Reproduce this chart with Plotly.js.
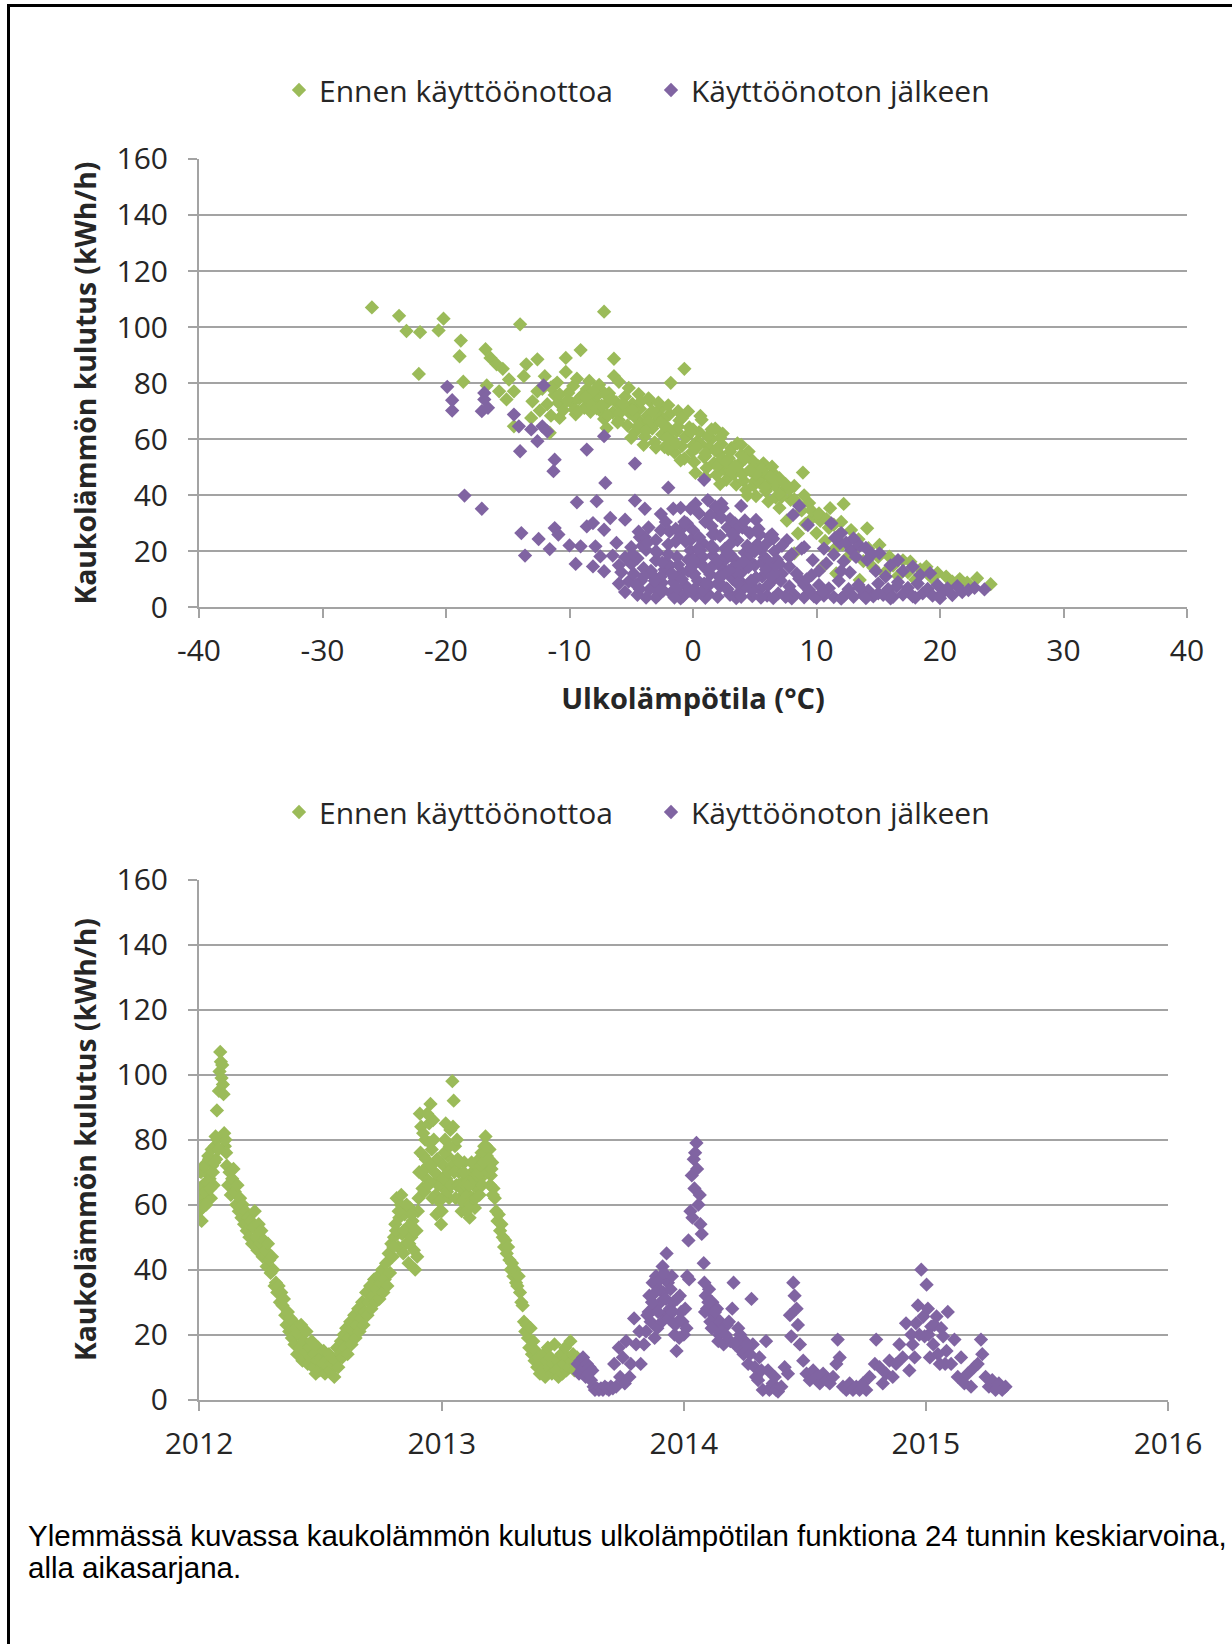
<!DOCTYPE html>
<html>
<head>
<meta charset="utf-8">
<script src="https://cdn.plot.ly/plotly-3.0.1.min.js"></script>
<style>
html,body{margin:0;padding:0;background:#fff;}
#chart{width:1232px;height:1644px;}
</style>
</head>
<body>
<div id="chart"></div>
<script>
// ---------- labels ----------
const seriesNames = ['Ennen käyttöönottoa', 'Käyttöönoton jälkeen'];
const yTitle = 'Kaukolämmön kulutus (kWh/h)';
const xTitleTop = 'Ulkolämpötila (°C)';
const captionLines = [
  'Ylemmässä kuvassa kaukolämmön kulutus ulkolämpötilan funktiona 24 tunnin keskiarvoina,',
  'alla aikasarjana.'
];
const tempTickVals = [-40, -30, -20, -10, 0, 10, 20, 30, 40];
const tempTickText = ['-40', '-30', '-20', '-10', '0', '10', '20', '30', '40'];
const yearTickVals = ['2012-01-01', '2013-01-01', '2014-01-01', '2015-01-01', '2016-01-01'];
const yearTickText = ['2012', '2013', '2014', '2015', '2016'];
const kwhTickVals = [0, 20, 40, 60, 80, 100, 120, 140, 160];

// ---------- top chart: consumption vs outdoor temperature ----------
const tempBefore = [
 -26.0,-23.8,-23.2,-22.1,-22.2,-20.6,-20.2,-18.8,-18.9,-18.6,
 -16.8,-16.4,-15.9,-15.4,-14.9,-16.7,-15.7,-15.1,-14.5,-14.0,
 -13.7,-13.5,-12.6,-12.6,-13.1,-11.6,-14.5,-12.0,-11.3,-10.3,
 -10.3,-9.1,-10.8,-9.7,-7.2,-6.4,-0.7,-1.8,-6.4,-11.8,
 -11.2,-10.9,-10.5,-10.1,-9.8,-9.5,-9.2,-8.8,-8.6,-8.3,
 -8.0,-7.7,-7.5,-7.2,-7.0,-6.8,-6.5,-6.2,-6.0,-5.8,
 -5.5,-5.3,-5.1,-4.9,-4.7,-4.5,-4.3,-4.1,-3.9,-3.7,
 -3.5,-3.3,-3.1,-2.9,-2.7,-2.5,-2.3,-2.1,-1.9,-1.7,
 -1.5,-1.3,-1.1,-0.9,-0.7,-0.5,-0.3,-0.1,0.1,0.3,
 0.5,0.7,0.9,1.1,1.3,1.5,1.7,1.9,2.1,2.3,
 2.5,2.7,2.9,3.1,3.3,3.5,3.7,3.9,4.1,4.3,
 4.5,4.7,4.9,5.1,5.3,5.5,5.7,5.9,6.1,6.3,
 6.5,6.7,7.0,7.0,7.3,7.6,7.9,8.2,8.5,8.2,
 8.9,8.8,9.1,9.4,9.7,10.0,10.3,10.5,10.7,11.1,
 11.0,11.4,11.6,11.8,12.2,12.1,12.5,12.8,13.1,13.5,
 13.4,13.8,14.1,14.2,14.6,15.1,15.0,15.5,15.9,16.2,
 16.6,17.0,17.6,17.4,18.0,18.4,18.9,19.3,19.8,20.5,
 21.0,21.6,22.2,23.0,24.1,-6.0,-5.2,-4.4,-3.6,-2.8,
 -2.0,-1.2,-0.4,0.6,-8.4,-7.6,-9.4,-11.0,-12.2,-13.0,
 -12.4,-11.5,0.0,1.0,2.0,3.0,4.0,5.0,6.0,2.4,
 3.6,4.8,5.6,6.4,1.8,
 -11.5,-10.8,-10.2,-9.6,-9.0,-8.4,-7.8,-7.2,-6.6,-6.0,
 -5.4,-4.8,-4.2,-3.6,-3.0,-2.4,-1.8,-1.2,-0.6,0.0,
 0.6,1.2,1.8,2.4,3.0,3.6,4.2,4.8,5.4,6.0,
 6.6,7.2,7.8,8.4,9.0,9.6,10.2,10.8,11.4,12.0,
 -4.0,-2.0,0.2,2.2,4.4,-7.0,-5.0,-3.0,-1.0,1.0,
 -9.3,-8.1,-6.9,-5.7,-4.5,-3.3,-2.1,-0.9,0.3,1.5,
 2.7,3.9,5.1,6.3,7.5,-8.7,-7.4,-6.1,-4.9,-3.8,
 -2.6,-1.4,-0.2,1.0,2.2,3.4,4.6,5.8,7.0,8.2
];
const kwhBefore = [
 107,104,98.6,98.2,83.3,98.8,103,95.2,89.6,80.5,
 92.1,89.0,86.7,85.1,81.3,79.2,77.1,74.2,77.1,101,
 82.5,86.7,88.5,77.1,67.6,62.3,64.6,82.5,79.0,89.0,
 84.0,91.8,67.6,79.0,105.5,88.7,85.1,80.1,82.5,72.5,
 75.8,73.0,70.4,76.5,72.8,68.9,74.6,71.2,77.9,69.8,
 73.5,75.9,70.1,67.2,72.8,76.4,69.5,73.1,66.8,71.4,
 75.2,64.9,69.2,72.6,62.5,67.0,70.9,65.3,61.0,68.4,
 73.7,63.8,58.9,66.5,70.5,61.7,57.2,64.4,68.9,59.6,
 55.3,62.8,66.7,57.5,53.1,60.9,64.2,55.4,51.8,59.0,
 62.5,66.9,53.6,49.7,57.2,60.1,51.5,47.3,55.0,58.3,
 49.4,45.5,53.2,56.8,47.6,43.8,51.0,54.4,45.2,41.9,
 55.6,48.7,43.5,39.7,50.3,46.2,51.4,41.5,37.8,44.0,
 47.9,39.2,46.1,35.5,41.7,31.0,38.4,43.3,26.4,19.3,
 48.1,34.6,29.8,37.2,32.1,26.5,30.9,14.5,23.7,35.4,
 28.4,20.6,12.1,25.9,36.9,22.5,17.8,27.6,20.4,9.8,
 24.3,16.5,28.2,21.1,14.2,22.3,18.0,12.3,18.1,14.9,
 11.2,16.8,16.3,12.5,9.9,13.6,14.5,10.7,12.3,11.0,
 9.2,10.1,8.8,10.4,8.3,80.5,78.3,76.1,74.6,73.0,
 72.1,70.0,69.9,68.3,80.8,79.4,81.6,80.2,78.0,73.5,
 70.2,68.4,57.8,54.0,50.5,49.0,47.5,45.0,43.0,62.0,
 58.5,52.4,49.5,50.2,63.8,
 78.5,76.0,73.8,70.5,75.5,73.0,71.0,76.5,74.5,69.0,
 71.5,68.5,73.5,66.5,69.0,67.0,62.5,64.5,61.0,63.5,
 58.5,61.0,56.0,53.0,55.5,50.5,53.0,48.5,44.5,47.0,
 43.5,39.5,42.0,37.5,40.0,34.5,33.5,31.5,29.5,30.5,
 58.0,56.5,48.0,44.0,40.0,64.0,60.5,57.0,52.5,46.5,
 70.0,77.0,68.5,72.5,64.5,70.0,60.5,67.5,57.0,63.5,
 52.0,58.0,47.5,46.5,44.0,75.0,72.0,66.0,70.5,63.0,
 66.0,58.5,62.5,55.0,60.5,50.5,49.0,43.0,40.5,38.5
];
const tempAfter = [
 -19.9,-19.5,-19.5,-16.9,-16.9,-17.1,-16.6,-18.5,-17.1,-14.5,
 -14.1,-14.0,-13.1,-12.6,-12.2,-12.1,-11.8,-11.2,-11.3,-7.2,
 -8.6,-4.7,-7.1,-13.9,-13.6,-12.5,-11.6,-11.2,-10.9,-10.0,
 -9.5,-9.4,-9.1,-8.6,-7.9,-7.8,-8.1,-7.2,-7.5,-8.1,
 -7.2,-6.2,-6.7,-5.5,-4.7,-3.9,-2.6,-2.0,-1.6,-0.2,
 -5.2,0.9,1.2,2.3,2.4,3.9,5.1,8.1,8.6,9.3,
 11.2,11.9,12.8,14.1,15.1,16.6,17.8,6.2,7.6,7.8,
 9.7,10.8,23.6,11.5,12.0,12.4,13.0,13.5,14.0,14.5,
 13.2,12.2,11.4,10.6,12.7,14.8,15.6,16.0,17.0,18.4,
 19.2,-5.0,-4.8,-4.5,-4.2,-4.0,-3.8,-3.5,-3.3,-3.0,
 -2.8,-2.5,-2.3,-2.0,-1.8,-1.5,-1.3,-1.0,-0.8,-0.6,
 -0.4,-0.2,0.0,0.2,0.4,0.6,0.8,1.0,1.2,1.4,
 1.6,1.8,2.0,2.2,2.4,2.6,2.8,3.0,3.2,3.4,
 3.6,3.8,4.0,4.2,4.4,4.6,4.8,5.0,5.2,5.4,
 5.6,5.8,6.0,6.3,6.6,6.9,7.2,7.5,7.8,8.2,
 8.6,9.0,9.4,9.8,10.2,10.6,11.0,11.4,11.8,12.2,
 12.6,13.0,13.4,13.8,14.2,14.6,15.0,15.4,15.8,16.2,
 16.6,17.0,17.4,17.8,18.2,18.6,19.0,19.4,19.8,20.2,
 20.6,21.0,21.4,21.8,22.3,22.8,-3.0,-1.0,1.0,3.5,
 5.5,6.5,8.0,10.0,12.0,14.0,16.0,18.0,20.0,-0.5,
 0.5,1.5,2.0,3.0,0.2,1.8,-1.0,4.0,-6.0,-5.8,
 -5.5,-5.0,-4.3,-3.6,-3.0,-6.5,-6.0,-5.5,-4.5,-3.8,
 -2.2,-1.6,-0.9,-0.3,0.3,0.9,1.5,2.1,2.7,3.3,
 3.9,4.5,5.1,-2.6,-1.2,0.1,1.3,2.5,3.7,4.9,
 5.5,6.0,6.8,7.2,8.0,8.4,9.0,9.6,10.2,6.4,
 -4.6,-4.1,-3.4,-2.9,-2.4,-1.9,-1.4,-0.9,-0.4,0.1,
 0.6,1.1,1.6,2.1,2.6,3.1,3.6,4.1,4.6,5.1,
 5.6,6.1,6.6,7.1,-3.9,-3.2,-2.6,-1.7,-0.7,0.4,
 1.4,2.4,3.4,4.4,5.4,6.4,-1.2,0.8,2.8,4.8,
 -2.2,-0.2,1.9,3.9,5.9,-4.4,-3.0,-1.5,0.0,1.5,
 3.0,4.5,6.0,7.5,9.0,10.5,12.0,13.5,15.0,16.5,
 -4.9,-4.3,-3.7,-3.1,-2.5,-1.9,-1.3,-0.7,-0.1,0.5,
 1.1,1.7,2.3,2.9,3.5,4.1,4.7,5.3,5.9,6.5,
 -3.4,-2.0,-0.6,0.8,2.2,3.6,5.0,6.4,7.8,9.2,
 -1.4,0.0,1.4,2.8,4.2,-4.0,-2.6,3.2,7.0,8.8
];
const kwhAfter = [
 78.7,73.9,70.2,76.5,74.2,70.0,71.2,39.9,35.2,68.8,
 64.6,55.7,63.5,59.3,64.6,79.2,62.8,52.7,48.6,61.1,
 56.3,51.3,44.4,26.5,18.5,24.4,20.8,28.3,26.0,22.1,
 15.5,37.5,21.8,28.9,21.8,37.9,14.6,12.9,18.2,30.1,
 27.7,23.0,31.9,31.3,38.1,35.2,33.3,42.7,35.2,35.2,
 9.3,45.5,38.3,37.1,35.4,36.2,31.2,33.0,36.2,29.4,
 30.0,22.9,20.5,16.9,19.3,16.9,14.5,25.2,24.0,14.5,
 16.9,15.7,6.4,24.8,26.5,23.1,24.6,22.0,21.2,19.0,
 18.0,16.4,18.8,21.0,12.5,13.0,11.0,15.0,13.0,11.6,
 12.2,15.5,12.0,17.5,9.5,14.0,20.5,6.5,11.5,16.8,
 4.5,8.8,13.5,22.5,5.2,10.5,18.0,25.5,4.0,7.8,
 13.0,20.3,27.5,4.2,9.5,15.8,23.0,30.5,5.0,11.8,
 18.5,26.2,3.8,7.5,14.0,21.0,28.5,4.5,10.2,17.0,
 24.0,5.5,12.8,19.5,8.0,26.5,4.0,15.0,22.5,6.5,
 11.0,17.8,4.2,9.0,20.0,5.0,12.0,3.8,7.5,4.5,
 10.2,3.6,6.2,3.9,8.0,4.2,6.8,3.7,9.5,4.0,
 6.5,3.8,8.0,4.4,6.0,3.9,8.5,4.5,6.5,3.8,
 9.0,4.6,7.0,3.9,8.5,5.0,6.6,4.2,8.0,5.2,
 6.8,4.4,7.6,5.5,6.2,7.0,3.5,3.2,3.4,3.3,
 3.5,3.3,3.2,3.4,3.1,3.3,3.2,3.5,3.3,30.0,
 33.5,29.0,33.0,31.5,37.0,36.0,35.5,28.5,15.0,12.5,
 17.8,21.5,25.0,28.5,24.0,18.5,8.5,5.5,4.5,3.5,
 16.0,9.0,12.5,6.0,17.5,8.5,21.5,11.0,6.8,14.5,
 9.0,17.0,10.5,11.0,15.2,12.0,8.0,17.8,15.0,7.0,
 20.5,14.5,17.0,22.0,19.0,12.0,21.5,11.5,13.0,26.0,
 8.0,22.0,13.0,19.5,6.0,15.0,23.5,10.0,17.0,6.5,
 20.5,13.5,26.0,9.0,17.0,23.0,12.0,7.0,19.0,10.5,
 16.0,8.0,12.5,9.5,25.0,7.5,27.5,12.0,29.0,21.0,
 33.0,11.5,30.0,22.0,26.0,14.0,5.5,6.0,6.5,6.0,
 30.5,24.0,16.0,3.8,22.5,27.0,20.0,3.5,12.0,22.0,
 19.0,14.5,17.0,4.0,8.0,5.5,13.0,7.0,5.0,7.5,
 19.0,6.5,23.0,9.5,16.0,27.0,7.0,30.5,14.5,25.0,
 8.5,21.0,32.0,13.0,27.5,16.5,9.5,28.0,13.5,24.5,
 12.0,19.0,23.5,18.0,25.5,8.5,20.0,11.0,18.0,10.0,
 28.0,17.0,14.0,19.5,31.0,11.0,6.0,26.0,15.5,21.0
];

// ---------- bottom chart: time series ----------
const datesBefore = [
 '2012-01-01','2012-01-03','2012-01-05','2012-01-07','2012-01-09','2012-01-11','2012-01-13','2012-01-15','2012-01-17','2012-01-19',
 '2012-01-21','2012-01-23','2012-01-25','2012-01-27','2012-01-28','2012-01-29','2012-01-31','2012-02-01','2012-02-02','2012-02-03',
 '2012-02-04','2012-02-05','2012-02-06','2012-02-07','2012-02-08','2012-02-09','2012-02-10','2012-02-11','2012-02-12','2012-02-14',
 '2012-02-16','2012-02-18','2012-02-20','2012-02-22','2012-02-24','2012-02-26','2012-02-28','2012-03-01','2012-03-03','2012-03-05',
 '2012-03-07','2012-03-09','2012-03-11','2012-03-13','2012-03-15','2012-03-17','2012-03-19','2012-03-21','2012-03-23','2012-03-25',
 '2012-03-27','2012-03-29','2012-03-31','2012-04-02','2012-04-04','2012-04-06','2012-04-08','2012-04-10','2012-04-12','2012-04-14',
 '2012-04-16','2012-04-18','2012-04-20','2012-04-22','2012-04-24','2012-04-26','2012-04-28','2012-04-30','2012-05-02','2012-05-04',
 '2012-05-06','2012-05-08','2012-05-10','2012-05-12','2012-05-14','2012-05-16','2012-05-18','2012-05-20','2012-05-22','2012-05-24',
 '2012-05-26','2012-05-28','2012-05-30','2012-06-01','2012-06-03','2012-06-05','2012-06-07','2012-06-09','2012-06-11','2012-06-13',
 '2012-06-15','2012-06-17','2012-06-19','2012-06-21','2012-06-23','2012-06-25','2012-06-27','2012-06-29','2012-07-01','2012-07-03',
 '2012-07-05','2012-07-07','2012-07-09','2012-07-11','2012-07-13','2012-07-15','2012-07-17','2012-07-19','2012-07-21','2012-07-23',
 '2012-07-25','2012-07-27','2012-07-29','2012-07-31','2012-08-02','2012-08-04','2012-08-06','2012-08-08','2012-08-10','2012-08-12',
 '2012-08-14','2012-08-16','2012-08-18','2012-08-20','2012-08-22','2012-08-24','2012-08-26','2012-08-28','2012-08-30','2012-09-01',
 '2012-09-03','2012-09-05','2012-09-07','2012-09-09','2012-09-11','2012-09-13','2012-09-15','2012-09-17','2012-09-19','2012-09-21',
 '2012-09-23','2012-09-25','2012-09-27','2012-09-29','2012-10-01','2012-10-03','2012-10-05','2012-10-07','2012-10-09','2012-10-11',
 '2012-10-13','2012-10-15','2012-10-17','2012-10-19','2012-10-21','2012-10-23','2012-10-25','2012-10-27','2012-10-29','2012-10-31',
 '2012-11-02','2012-11-04','2012-11-06','2012-11-08','2012-11-10','2012-11-12','2012-11-14','2012-11-16','2012-11-18','2012-11-20',
 '2012-11-22','2012-11-24','2012-11-26','2012-11-28','2012-11-29','2012-12-01','2012-12-03','2012-12-05','2012-12-07','2012-12-09',
 '2012-12-11','2012-12-13','2012-12-15','2012-12-17','2012-12-19','2012-12-21','2012-12-23','2012-12-25','2012-12-27','2012-12-29',
 '2012-12-31','2013-01-02','2013-01-04','2013-01-06','2013-01-08','2013-01-10','2013-01-12','2013-01-14','2013-01-16','2013-01-17',
 '2013-01-19','2013-01-21','2013-01-23','2013-01-25','2013-01-27','2013-01-29','2013-01-31','2013-02-02','2013-02-04','2013-02-06',
 '2013-02-08','2013-02-10','2013-02-12','2013-02-14','2013-02-16','2013-02-18','2013-02-20','2013-02-22','2013-02-24','2013-02-26',
 '2013-02-28','2013-03-02','2013-03-04','2013-03-06','2013-03-08','2013-03-10','2013-03-12','2013-03-14','2013-03-16','2013-03-18',
 '2013-03-20','2013-03-22','2013-03-24','2013-03-26','2013-03-28','2013-03-30','2013-04-01','2013-04-03','2013-04-05','2013-04-07',
 '2013-04-09','2013-04-11','2013-04-13','2013-04-15','2013-04-17','2013-04-19','2013-04-21','2013-04-23','2013-04-25','2013-04-27',
 '2013-04-29','2013-05-01','2013-05-03','2013-05-05','2013-05-07','2013-05-09','2013-05-11','2013-05-13','2013-05-15','2013-05-17',
 '2013-05-19','2013-05-21','2013-05-23','2013-05-25','2013-05-27','2013-05-29','2013-05-31','2013-06-02','2013-06-04','2013-06-06',
 '2013-06-08','2013-06-10','2013-06-12','2013-06-14','2013-06-16','2013-06-18','2013-06-20','2013-06-22','2013-06-24','2013-06-26',
 '2013-06-28','2013-06-30','2013-07-02','2013-07-04','2013-07-06','2013-07-08','2013-07-10','2013-07-12','2013-07-14','2013-07-16',
 '2013-07-18','2013-07-20','2013-07-22','2013-07-24',
 '2012-01-02','2012-01-04','2012-01-06','2012-01-08','2012-01-10','2012-01-12','2012-01-14','2012-01-16','2012-01-18','2012-01-20',
 '2012-01-22','2012-01-24','2012-01-26','2012-01-30','2012-10-20','2012-10-24','2012-10-28','2012-11-01','2012-11-05','2012-11-09',
 '2012-11-13','2012-11-17','2012-11-21','2012-11-25','2012-11-27','2012-11-30','2012-12-02','2012-12-04','2012-12-06','2012-12-08',
 '2012-12-10','2012-12-12','2012-12-14','2012-12-16','2012-12-18','2012-12-20','2012-12-22','2012-12-24','2012-12-26','2012-12-28',
 '2012-12-30','2013-01-01','2013-01-03','2013-01-05','2013-01-07','2013-01-09','2013-01-11','2013-01-13','2013-01-15','2013-01-18',
 '2013-01-20','2013-01-22','2013-01-24','2013-01-26','2013-01-28','2013-01-30','2013-02-01','2013-02-03','2013-02-05','2013-02-07',
 '2013-02-09','2013-02-11','2013-02-13','2013-02-15','2013-02-17','2013-02-19','2013-02-21','2013-02-23','2013-02-25','2013-02-27',
 '2013-03-01','2013-03-03','2013-03-05','2013-03-07','2013-03-09','2013-03-11','2013-03-13','2013-03-15','2013-03-17','2013-03-19'
];
const seriesBefore = [
 58,62,55,66,60,70,64,75,68,62,
 72,66,78,74,89,80,95,101,107,104,
 99,103,97,94,82,78,80,76,72,66,
 70,63,68,71,64,60,66,58,62,56,
 60,54,58,52,56,50,55,48,53,58,
 50,46,54,48,52,44,49,46,41,48,
 43,39,44,40,35,36,33,35,30,33,
 29,31,26,23,27,21,25,19,24,17,
 22,14,20,16,23,12,18,15,21,11,
 16,13,18,10,14,8,12,16,9,13,
 11,15,8,12,10,14,9,13,11,7,
 12,16,10,14,18,13,20,16,22,14,
 19,24,17,21,26,19,23,28,21,25,
 30,23,27,33,26,30,35,28,32,37,
 30,34,38,31,36,40,33,37,42,35,
 45,39,48,44,50,54,62,47,56,60,
 51,45,57,48,53,42,59,50,55,46,
 40,52,58,70,88,84,65,75,80,68,
 72,85,91,77,86,70,63,74,66,58,
 54,62,72,80,68,75,62,83,72,98,
 92,78,66,74,70,62,58,67,73,64,
 60,68,56,62,70,66,59,72,65,74,
 68,76,70,78,81,75,71,77,69,73,
 65,62,58,55,57,52,54,50,47,49,
 45,47,43,40,42,38,40,36,35,38,
 33,30,29,24,21,23,19,16,22,14,
 18,12,15,10,13,8,11,9,14,7,
 12,16,10,13,8,11,17,9,12,7,
 10,14,8,11,16,9,13,10,18,12,
 14,9,11,13,
 65,70,59,72,64,60,67,74,65,77,
 70,73,81,77,47,52,58,63,52,60,
 48,57,52,44,62,76,70,82,64,74,
 88,66,79,72,62,80,67,57,69,61,
 66,58,68,76,85,64,70,78,66,84,
 70,62,80,66,73,65,61,70,66,58,
 63,66,60,73,62,68,62,69,70,63,
 72,66,73,76,78,70,74,66,71,63
];
const datesAfter = [
 '2013-07-25','2013-07-27','2013-07-29','2013-07-31','2013-08-02','2013-08-04','2013-08-06','2013-08-08','2013-08-10','2013-08-12',
 '2013-08-14','2013-08-16','2013-08-18','2013-08-20','2013-08-23','2013-08-26','2013-08-29','2013-09-01','2013-09-04','2013-09-07',
 '2013-09-10','2013-09-13','2013-09-16','2013-09-18','2013-09-21','2013-09-25','2013-09-27','2013-10-01','2013-10-04','2013-10-06',
 '2013-10-11','2013-10-13','2013-10-18','2013-10-21','2013-10-26','2013-10-28','2013-11-02','2013-11-07','2013-11-10','2013-11-12',
 '2013-11-15','2013-11-17','2013-11-18','2013-11-20','2013-11-22','2013-11-25','2013-11-27','2013-11-30','2013-12-01','2013-12-03',
 '2013-12-06','2013-12-08','2013-12-11','2013-12-14','2013-12-16','2013-12-18','2013-12-21','2013-12-23','2013-12-26','2013-12-28',
 '2014-01-01','2014-01-06','2014-01-08','2014-01-09','2014-01-11','2014-01-13','2014-01-14','2014-01-16','2014-01-17','2014-01-18',
 '2014-01-20','2014-01-21','2014-01-23','2014-01-25','2014-01-26','2014-01-28','2014-01-31','2014-02-01','2014-02-03','2014-02-05',
 '2014-02-08','2014-02-10','2014-02-13','2014-02-15','2014-02-18','2014-02-20','2014-02-23','2014-02-25','2014-03-02','2014-03-07',
 '2014-03-12','2014-03-15','2014-03-17','2014-03-19','2014-03-24','2014-03-29','2014-04-03','2014-04-08','2014-04-13','2014-04-15',
 '2014-04-20','2014-04-25','2014-04-30','2014-05-05','2014-05-08','2014-05-10','2014-05-13','2014-05-15','2014-05-18','2014-05-20',
 '2014-05-23','2014-05-28','2014-06-02','2014-06-07','2014-06-10','2014-06-12','2014-06-15','2014-06-17','2014-06-20','2014-06-22',
 '2014-06-25','2014-06-30','2014-07-05','2014-07-10','2014-07-15','2014-07-20','2014-07-25','2014-07-30','2014-08-04','2014-08-09',
 '2014-08-14','2014-08-19','2014-08-21','2014-08-24','2014-08-29','2014-09-03','2014-09-08','2014-09-13','2014-09-18','2014-09-23',
 '2014-09-28','2014-10-03','2014-10-08','2014-10-16','2014-10-18','2014-10-23','2014-10-28','2014-11-02','2014-11-07','2014-11-12',
 '2014-11-17','2014-11-22','2014-11-27','2014-12-02','2014-12-07','2014-12-12','2014-12-17','2014-12-20','2014-12-25','2014-12-28',
 '2014-12-30','2015-01-02','2015-01-04','2015-01-07','2015-01-09','2015-01-12','2015-01-17','2015-01-22','2015-01-27','2015-02-01',
 '2015-02-03','2015-02-08','2015-02-13','2015-02-18','2015-02-23','2015-02-28','2015-03-05','2015-03-10','2015-03-15','2015-03-20',
 '2015-03-25','2015-03-27','2015-04-01','2015-04-06','2015-04-11','2015-04-16','2015-04-21','2015-04-26','2015-05-01',
 '2013-11-05','2013-11-09','2013-11-14','2013-11-19','2013-11-23','2013-11-26','2013-11-29','2013-12-02','2013-12-05','2013-12-09',
 '2013-12-12','2013-12-15','2013-12-19','2013-12-22','2013-12-25','2013-12-30','2014-01-03','2014-01-05','2014-02-02','2014-02-07',
 '2014-02-12','2014-02-17','2014-02-22','2014-02-27','2014-03-05','2014-03-10','2014-03-22','2014-03-27','2014-04-01','2014-04-06',
 '2014-04-11','2014-04-18','2014-04-23','2014-04-28','2015-01-05','2015-01-14','2015-01-19','2015-01-24','2015-01-30','2014-12-22',
 '2014-12-15','2014-12-10'
];
const seriesAfter = [
 11,8,12,9,13,10,7,11,8,10,
 6,9,4,3,3.5,3,3.5,3,4,3.5,
 3,4,3.5,11,4,16,7,13,5,18,
 7,11,25,17,21,11,17,26,32,24,
 36,28,19,38,22,34,30,41,33,26,
 45,36,28,38,30,20,15,24,32,27,
 20,38,49,37,58,69,56,74,65,76,
 79,71,60,63,54,51,42,36,32,28,
 34,24,30,26,22,28,20,24,17,23,
 18,28,36,17,22,15,18,11,31,17,
 7,13,3,18,9,3,4,5,7,3,
 2.5,4,10,8,26,19.5,36,32,28,23,
 17,12,8,6,9,7,5,8,6,5,
 7,11,18.5,13,4,3,5,3,4,3,
 5,3,7,11,18.5,10,5,8,12,7,
 11,17,13,23.5,9,17,23.5,29,40,25.6,
 19.5,35.4,28,13,22.5,17,25.6,11,19.5,15,
 27,11,18.5,7,13,5,8,4,10,11,
 18.5,14,7,4,6,3,5,3,4,
 21,27,30,33,27,37,24,39,31,25,
 34,27,23,31,19,24,28,22,27,30,
 22,27,18,21,20,24,18,20,14,17,
 14,10,6,9,20,23,14,22,11,20,
 13,20
];

// ---------- styling ----------
const GREEN = '#9BBB59';
const PURPLE = '#8064A2';
const GRID = '#A3A3A3';
const TXT = '#262626';
const W = 1232, H = 1644;
const px = v => v / W;
const py = v => 1 - v / H;
const FONT = 'Open Sans, sans-serif';
const FS = 30;

const mk = c => ({symbol: 'diamond', size: 11, color: c, line: {width: 0}});

const traces = [
  {type: 'scatter', mode: 'markers', name: seriesNames[0], x: tempBefore, y: kwhBefore,
   xaxis: 'x', yaxis: 'y', marker: mk(GREEN), legend: 'legend'},
  {type: 'scatter', mode: 'markers', name: seriesNames[1], x: tempAfter, y: kwhAfter,
   xaxis: 'x', yaxis: 'y', marker: mk(PURPLE), legend: 'legend'},
  {type: 'scatter', mode: 'markers', name: seriesNames[0], x: datesBefore, y: seriesBefore,
   xaxis: 'x2', yaxis: 'y2', marker: mk(GREEN), legend: 'legend2'},
  {type: 'scatter', mode: 'markers', name: seriesNames[1], x: datesAfter, y: seriesAfter,
   xaxis: 'x2', yaxis: 'y2', marker: mk(PURPLE), legend: 'legend2'}
];

const axisBase = {
  showline: true, linecolor: GRID, linewidth: 2,
  ticks: 'outside', ticklen: 9, tickwidth: 2, tickcolor: GRID,
  zeroline: false, tickfont: {family: FONT, size: FS, color: TXT},
  fixedrange: true
};
const titleFont = {family: FONT, size: 28.3, color: TXT, weight: 'bold'};

const legendBase = {
  orientation: 'h', xanchor: 'left', yanchor: 'middle',
  font: {family: FONT, size: FS, color: TXT},
  bgcolor: 'rgba(0,0,0,0)', borderwidth: 0,
  entrywidth: 327, entrywidthmode: 'pixels', itemclick: false, itemdoubleclick: false
};

const layout = {
  width: W, height: H,
  margin: {l: 0, r: 0, t: 0, b: 0, pad: 0, autoexpand: false},
  paper_bgcolor: '#ffffff', plot_bgcolor: '#ffffff',
  font: {family: FONT, size: FS, color: TXT},
  showlegend: true,
  legend: Object.assign({}, legendBase, {x: px(279), y: py(90)}),
  legend2: Object.assign({}, legendBase, {x: px(279), y: py(812)}),
  xaxis: Object.assign({}, axisBase, {
    domain: [px(199), px(1187)], anchor: 'y', range: [-40, 40],
    tickvals: tempTickVals, ticktext: tempTickText, showgrid: false,
    ticklabelstandoff: 7, automargin: true,
    title: {text: xTitleTop, font: Object.assign({}, titleFont, {size: 29}), standoff: 19}
  }),
  yaxis: Object.assign({}, axisBase, {
    domain: [py(607.4), py(158.9)], anchor: 'x', range: [0, 160],
    tickvals: kwhTickVals, showgrid: true, gridcolor: GRID, gridwidth: 2,
    ticklabelstandoff: 14, automargin: true,
    title: {text: yTitle, font: titleFont, standoff: 12}
  }),
  xaxis2: Object.assign({}, axisBase, {
    domain: [px(199), px(1168)], anchor: 'y2', type: 'date',
    range: ['2012-01-01', '2016-01-01'],
    tickvals: yearTickVals, ticktext: yearTickText, showgrid: false,
    ticklabelstandoff: 7
  }),
  yaxis2: Object.assign({}, axisBase, {
    domain: [py(1399.7), py(879.6)], anchor: 'x2', range: [0, 160],
    tickvals: kwhTickVals, showgrid: true, gridcolor: GRID, gridwidth: 2,
    ticklabelstandoff: 14, automargin: true,
    title: {text: yTitle, font: titleFont, standoff: 12}
  }),
  shapes: [
    {type: 'line', xref: 'paper', yref: 'paper', x0: px(8.5), x1: px(8.5), y0: 0, y1: py(5.5),
     line: {color: '#000000', width: 3}},
    {type: 'line', xref: 'paper', yref: 'paper', x0: px(7), x1: 1, y0: py(5.5), y1: py(5.5),
     line: {color: '#000000', width: 3}}
  ],
  annotations: [
    {xref: 'paper', yref: 'paper', x: px(26), y: py(1535), xanchor: 'left', yanchor: 'middle',
     text: captionLines[0], showarrow: false,
     font: {family: 'Liberation Sans, Arial, sans-serif', size: 29.5, color: '#000000'}},
    {xref: 'paper', yref: 'paper', x: px(26), y: py(1567), xanchor: 'left', yanchor: 'middle',
     text: captionLines[1], showarrow: false,
     font: {family: 'Liberation Sans, Arial, sans-serif', size: 29.5, color: '#000000'}}
  ]
};

Plotly.newPlot('chart', traces, layout, {displayModeBar: false, staticPlot: true});
</script>
</body>
</html>
